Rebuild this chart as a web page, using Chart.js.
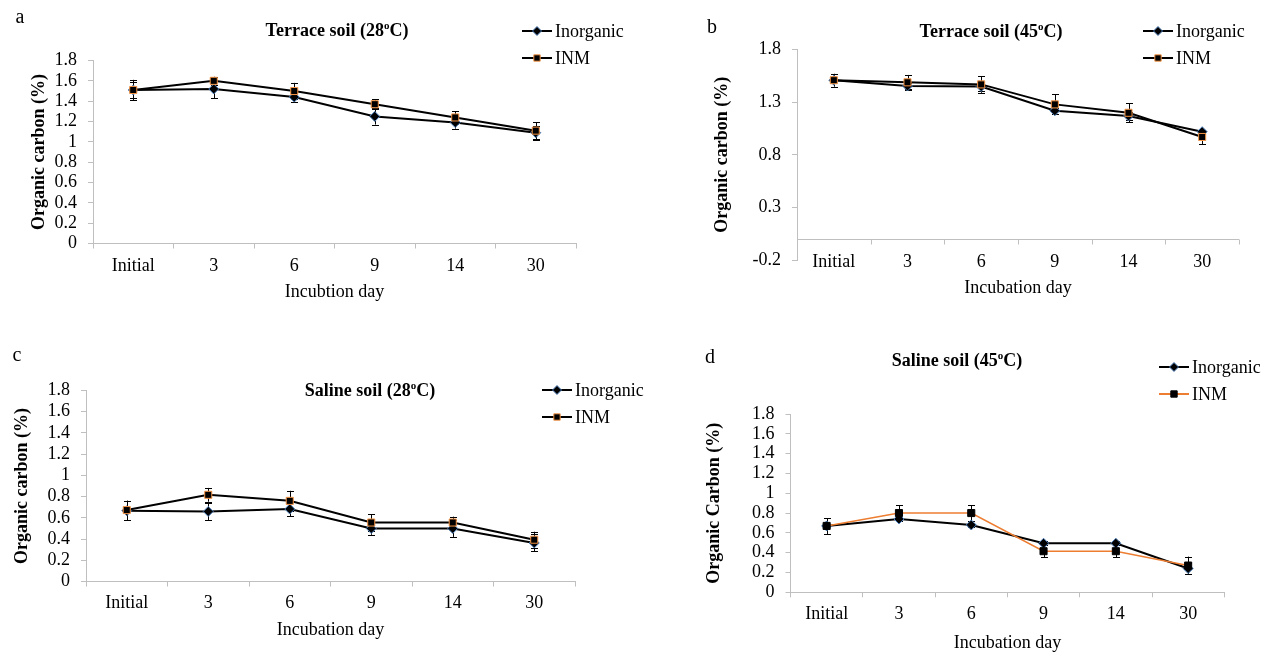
<!DOCTYPE html>
<html>
<head>
<meta charset="utf-8">
<script src="https://cdn.jsdelivr.net/npm/chart.js@4.4.1/dist/chart.umd.min.js"></script>
<style>
  html, body { margin: 0; padding: 0; background: #fff; }
  #wrap { position: relative; width: 1264px; height: 653px; background: #fff; overflow: hidden; }
  #wrap canvas { position: absolute; left: 0; top: 0; }
</style>
</head>
<body>
<div id="wrap">
  <canvas id="ca" width="1264" height="653"></canvas>
  <canvas id="cb" width="1264" height="653"></canvas>
  <canvas id="cc" width="1264" height="653"></canvas>
  <canvas id="cd" width="1264" height="653"></canvas>
</div>
<script>
// ---------- data ----------
const categories = ['Initial', '3', '6', '9', '14', '30'];

const aInorganic    = [1.51, 1.52, 1.44, 1.25, 1.19, 1.09];
const aInorganicErr = [0.08, 0.09, 0.05, 0.08, 0.06, 0.07];
const aINM          = [1.51, 1.60, 1.50, 1.37, 1.24, 1.11];
const aINMErr       = [0.10, 0.04, 0.08, 0.05, 0.06, 0.085];

const bInorganic    = [1.51, 1.455, 1.45, 1.22, 1.17, 1.02];
const bInorganicErr = [0.06, 0.03, 0.04, 0.03, 0.04, 0.02];
const bINM          = [1.51, 1.49, 1.47, 1.28, 1.20, 0.97];
const bINMErr       = [0.06, 0.07, 0.08, 0.095, 0.09, 0.07];

const cInorganic    = [0.667, 0.66, 0.683, 0.50, 0.50, 0.363];
const cInorganicErr = [0.09, 0.08, 0.07, 0.06, 0.08, 0.08];
const cINM          = [0.673, 0.817, 0.76, 0.556, 0.556, 0.394];
const cINMErr       = [0.09, 0.065, 0.095, 0.08, 0.055, 0.075];

const dInorganic    = [0.67, 0.74, 0.68, 0.495, 0.495, 0.24];
const dInorganicErr = [0.08, 0.02, 0.02, 0.02, 0.02, 0.06];
const dINM          = [0.67, 0.80, 0.80, 0.415, 0.415, 0.27];
const dINMErr       = [0.08, 0.08, 0.08, 0.06, 0.06, 0.09];

const yTicksAC = [0, 0.2, 0.4, 0.6, 0.8, 1, 1.2, 1.4, 1.6, 1.8];
const yTicksB  = [-0.2, 0.3, 0.8, 1.3, 1.8];

const seriesNames = ['Inorganic', 'INM'];

// ---------- styling ----------
const FONT = "'Liberation Serif', 'Times New Roman', serif";
Chart.defaults.font.family = FONT;
Chart.defaults.color = '#000';
const AXIS = '#bfbfbf';
const BLUE = '#4f81bd';
const ORANGE = '#f79646';
const ORANGE_LINE = '#ed7d31';

function fmt(v) { return String(Number(Number(v).toFixed(2))); }

const errorBars = {
  id: 'errorBars',
  beforeDatasetsDraw(chart) {
    const ctx = chart.ctx;
    const ys = chart.scales.y;
    ctx.save();
    ctx.strokeStyle = '#000';
    ctx.lineWidth = 1;
    chart.data.datasets.forEach((ds, di) => {
      const meta = chart.getDatasetMeta(di);
      if (!ds.errors) return;
      meta.data.forEach((pt, i) => {
        const v = ds.data[i], e = ds.errors[i];
        const x = Math.round(pt.x) + 0.5;
        const y1 = ys.getPixelForValue(v + e), y2 = ys.getPixelForValue(v - e);
        ctx.beginPath();
        ctx.moveTo(x, y1); ctx.lineTo(x, y2);
        ctx.moveTo(x - 3.5, Math.round(y1) + 0.5); ctx.lineTo(x + 3.5, Math.round(y1) + 0.5);
        ctx.moveTo(x - 3.5, Math.round(y2) + 0.5); ctx.lineTo(x + 3.5, Math.round(y2) + 0.5);
        ctx.stroke();
      });
    });
    ctx.restore();
  }
};

// x axis crossing at value 0 (used when the value range goes below zero)
const customAxis = {
  id: 'customAxis',
  beforeDatasetsDraw(chart, args, opts) {
    if (!opts || !opts.enabled) return;
    const ctx = chart.ctx, xs = chart.scales.x, ys = chart.scales.y;
    const y0 = Math.round(ys.getPixelForValue(0)) + 0.5;
    const ca = chart.chartArea;
    ctx.save();
    ctx.strokeStyle = AXIS; ctx.lineWidth = 1;
    ctx.beginPath();
    ctx.moveTo(ca.left, y0); ctx.lineTo(ca.right, y0);
    for (let i = 0; i <= categories.length; i++) {
      const x = Math.round(xs.getPixelForValue(i - 0.5)) + 0.5;
      ctx.moveTo(x, y0); ctx.lineTo(x, y0 + 5);
    }
    ctx.stroke();
    // category labels
    ctx.fillStyle = '#000';
    ctx.font = '18px ' + FONT;
    ctx.textAlign = 'center'; ctx.textBaseline = 'middle';
    categories.forEach((c, i) => {
      ctx.fillText(c, xs.getPixelForValue(i), opts.labelY);
    });
    ctx.restore();
  }
};

const deco = {
  id: 'deco',
  afterDraw(chart, args, o) {
    if (!o || !o.title) return;
    const ctx = chart.ctx;
    ctx.save();
    // panel letter
    ctx.fillStyle = '#000';
    ctx.font = '20px ' + FONT;
    ctx.textAlign = 'center'; ctx.textBaseline = 'middle';
    ctx.fillText(o.letter, o.letterX, o.letterY);
    // title with superscript
    const t = o.title;
    const fMain = 'bold 18px ' + FONT, fSup = 'bold 11px ' + FONT;
    ctx.font = fMain; const w1 = ctx.measureText(t.base).width, w3 = ctx.measureText(t.tail).width;
    ctx.font = fSup; const w2 = ctx.measureText(t.sup).width;
    let x = o.titleX - (w1 + w2 + w3) / 2;
    ctx.textAlign = 'left'; ctx.textBaseline = 'middle';
    ctx.font = fMain; ctx.fillText(t.base, x, o.titleY); x += w1;
    ctx.font = fSup; ctx.fillText(t.sup, x, o.titleY - 5); x += w2;
    ctx.font = fMain; ctx.fillText(t.tail, x, o.titleY);
    // legend
    chart.data.datasets.forEach((ds, i) => {
      const ly = o.legendY + i * 27;
      const lx = o.legendX;
      ctx.strokeStyle = ds.borderColor; ctx.lineWidth = 2;
      ctx.beginPath(); ctx.moveTo(lx, ly); ctx.lineTo(lx + 30, ly); ctx.stroke();
      ctx.fillStyle = ds.pointBackgroundColor; ctx.strokeStyle = ds.pointBorderColor; ctx.lineWidth = 1;
      Chart.helpers.drawPoint(ctx, { pointStyle: ds.pointStyle, radius: ds.pointRadius - 0.5, borderWidth: 1, rotation: 0 }, lx + 15, ly);
      ctx.fillStyle = '#000';
      ctx.font = '18px ' + FONT; ctx.textAlign = 'left'; ctx.textBaseline = 'middle';
      ctx.fillText(ds.label, lx + 33, ly + 1);
    });
    ctx.restore();
  }
};

function makePanel(id, p) {
  const lh = 18 * 1.2;
  const padL = p.yTitleX - lh / 2;
  const yW = p.left - padL;
  const xH = p.xTitleY + lh / 2 - p.bottom;
  const padB = 653 - p.bottom - xH;
  const xPad = p.xLabelY - p.bottom - 5 - lh / 2;
  const ds = [
    {
      label: seriesNames[0], data: p.inorg, errors: p.inorgErr,
      borderColor: '#000', borderWidth: 2, tension: 0,
      pointStyle: 'rectRot', pointRadius: 5, pointBackgroundColor: '#000',
      pointBorderColor: BLUE, pointBorderWidth: 1, order: 1
    },
    {
      label: seriesNames[1], data: p.inm, errors: p.inmErr,
      borderColor: p.inmLine || '#000', borderWidth: p.inmLine ? 1.5 : 2, tension: 0,
      pointStyle: 'rect', pointRadius: 5, pointBackgroundColor: '#000',
      pointBorderColor: p.inmPointBorder || ORANGE, pointBorderWidth: 1, order: 0
    }
  ];
  return new Chart(document.getElementById(id), {
    type: 'line',
    data: { labels: categories, datasets: ds },
    plugins: [errorBars, customAxis, deco],
    options: {
      responsive: false, animation: false, devicePixelRatio: 1,
      events: [],
      layout: { padding: { left: padL, right: 1264 - p.right, top: p.top, bottom: padB } },
      plugins: {
        legend: { display: false }, title: { display: false }, tooltip: { enabled: false },
        customAxis: { enabled: !!p.customAxis, labelY: p.xLabelY },
        deco: {
          letter: p.letter, letterX: p.letterX, letterY: p.letterY,
          title: p.title, titleX: p.titleX, titleY: p.titleY,
          legendX: p.legendX, legendY: p.legendY
        }
      },
      scales: {
        x: {
          type: 'category', offset: true,
          afterFit: s => { s.height = xH; },
          grid: { display: !p.customAxis, offset: true, drawOnChartArea: false, tickLength: 5, color: AXIS },
          border: { display: !p.customAxis, color: AXIS },
          ticks: { display: !p.customAxis, font: { size: 18 }, color: '#000', padding: xPad, maxRotation: 0, autoSkip: false },
          title: { display: true, text: p.xTitle, font: { size: 18 }, color: '#000', padding: 0 }
        },
        y: {
          min: p.yTicks[0], max: p.yTicks[p.yTicks.length - 1],
          afterBuildTicks: s => { s.ticks = p.yTicks.map(v => ({ value: v })); },
          afterFit: s => { s.width = yW; },
          ticks: { font: { size: 18 }, color: '#000', padding: 11, autoSkip: false, callback: v => fmt(v) },
          grid: { display: true, drawOnChartArea: false, tickLength: 5, color: AXIS },
          border: { display: true, color: AXIS },
          title: { display: true, text: p.yTitle, font: { size: 18, weight: 'bold' }, color: '#000', padding: 0 }
        }
      }
    }
  });
}

makePanel('ca', {
  left: 93, right: 576, top: 60.5, bottom: 243.5,
  yTitleX: 39, xLabelY: 266, xTitleY: 292,
  yTicks: yTicksAC, yTitle: 'Organic carbon (%)', xTitle: 'Incubtion day',
  inorg: aInorganic, inorgErr: aInorganicErr, inm: aINM, inmErr: aINMErr,
  letter: 'a', letterX: 20, letterY: 18,
  title: { base: 'Terrace soil (28', sup: 'o', tail: 'C)' }, titleX: 337, titleY: 31,
  legendX: 522, legendY: 31
});

makePanel('cb', {
  left: 797, right: 1239, top: 49.7, bottom: 260,
  yTitleX: 722, xLabelY: 262, xTitleY: 288, customAxis: true,
  yTicks: yTicksB, yTitle: 'Organic carbon (%)', xTitle: 'Incubation day',
  inorg: bInorganic, inorgErr: bInorganicErr, inm: bINM, inmErr: bINMErr,
  letter: 'b', letterX: 712, letterY: 28,
  title: { base: 'Terrace soil (45', sup: 'o', tail: 'C)' }, titleX: 991, titleY: 32,
  legendX: 1143, legendY: 31
});

makePanel('cc', {
  left: 86, right: 575, top: 390.5, bottom: 581.5,
  yTitleX: 22, xLabelY: 603, xTitleY: 630,
  yTicks: yTicksAC, yTitle: 'Organic carbon (%)', xTitle: 'Incubation day',
  inorg: cInorganic, inorgErr: cInorganicErr, inm: cINM, inmErr: cINMErr,
  letter: 'c', letterX: 17, letterY: 356,
  title: { base: 'Saline soil (28', sup: 'o', tail: 'C)' }, titleX: 370, titleY: 391,
  legendX: 542, legendY: 390
});

makePanel('cd', {
  left: 790.5, right: 1224.3, top: 414, bottom: 592.3,
  yTitleX: 714, xLabelY: 614, xTitleY: 643,
  yTicks: yTicksAC, yTitle: 'Organic Carbon (%)', xTitle: 'Incubation day',
  inorg: dInorganic, inorgErr: dInorganicErr, inm: dINM, inmErr: dINMErr,
  inmLine: ORANGE_LINE, inmPointBorder: '#000',
  letter: 'd', letterX: 710, letterY: 358,
  title: { base: 'Saline soil (45', sup: 'o', tail: 'C)' }, titleX: 957, titleY: 361,
  legendX: 1159, legendY: 367
});
</script>
</body>
</html>
